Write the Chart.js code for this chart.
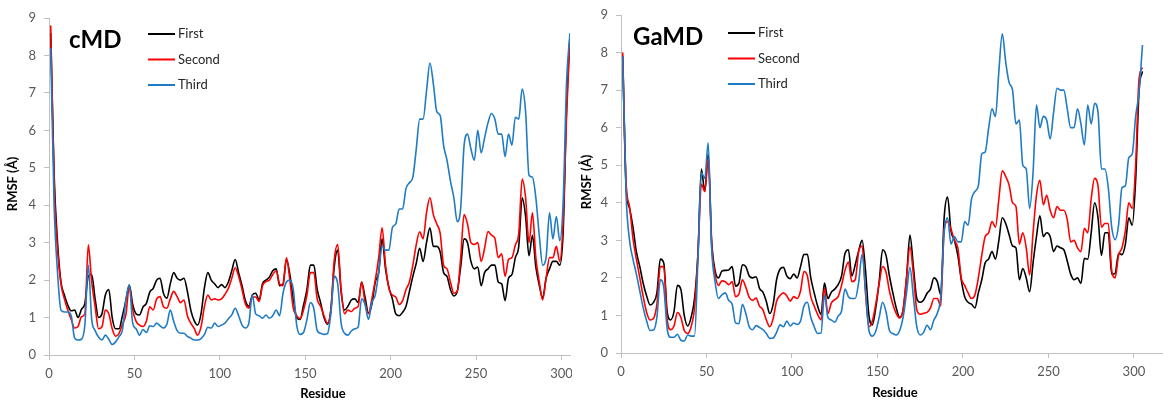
<!DOCTYPE html>
<html>
<head>
<meta charset="utf-8">
<script src="https://cdn.jsdelivr.net/npm/chart.js@4.4.0/dist/chart.umd.min.js"></script>
<style>
  body { margin: 0; background: #fff; }
  #wrapL { position: absolute; left: 0; top: 0; }
  #wrapR { position: absolute; left: 578px; top: 0; }
</style>
</head>
<body>
<div id="wrapL"><canvas id="cmdChart" width="572" height="402"></canvas></div>
<div id="wrapR"><canvas id="gamdChart" width="585" height="402"></canvas></div>
<script>
// residue numbers (every other residue)
const residues = [
  1, 3, 5, 7, 9, 11, 13, 15, 17, 19,
  21, 23, 25, 27, 29, 31, 33, 35, 37, 39,
  41, 43, 45, 47, 49, 51, 53, 55, 57, 59,
  61, 63, 65, 67, 69, 71, 73, 75, 77, 79,
  81, 83, 85, 87, 89, 91, 93, 95, 97, 99,
  101, 103, 105, 107, 109, 111, 113, 115, 117, 119,
  121, 123, 125, 127, 129, 131, 133, 135, 137, 139,
  141, 143, 145, 147, 149, 151, 153, 155, 157, 159,
  161, 163, 165, 167, 169, 171, 173, 175, 177, 179,
  181, 183, 185, 187, 189, 191, 193, 195, 197, 199,
  201, 203, 205, 207, 209, 211, 213, 215, 217, 219,
  221, 223, 225, 227, 229, 231, 233, 235, 237, 239,
  241, 243, 245, 247, 249, 251, 253, 255, 257, 259,
  261, 263, 265, 267, 269, 271, 273, 275, 277, 279,
  281, 283, 285, 287, 289, 291, 293, 295, 297, 299,
  301, 303, 305
];

const seriesNames = ['First', 'Second', 'Third'];
const seriesColors = ['#000000', '#ff0000', '#1f7bc4'];
const xTicks = [0, 50, 100, 150, 200, 250, 300];
const yTicks = [0, 1, 2, 3, 4, 5, 6, 7, 8, 9];

// cMD RMSF (Å)
const cmdFirst = [
  8.6, 4.8, 3.0, 1.95, 1.6, 1.33, 1.18, 1.2, 1.0, 1.22,
  1.38, 2.1, 2.15, 1.5, 1.0, 1.1, 1.6, 1.75, 1.0, 0.7,
  0.7, 1.05, 1.45, 1.87, 1.35, 1.1, 1.07, 1.28, 1.38, 1.68,
  1.78, 2.0, 2.05, 1.65, 1.52, 1.9, 2.2, 2.05, 2.0, 2.05,
  1.7, 1.2, 0.92, 0.8, 1.1, 1.8, 2.2, 2.0, 1.9, 1.8,
  1.88, 1.8, 1.95, 2.25, 2.55, 2.2, 1.85, 1.45, 1.3, 1.6,
  1.65, 1.47, 1.9, 2.0, 2.08, 2.25, 2.3, 1.85, 1.9, 2.55,
  2.15, 1.5, 1.0, 0.95, 1.33, 1.75, 2.4, 2.4, 1.75, 1.4,
  1.0, 0.82, 1.2, 2.36, 2.8, 1.7, 1.2, 1.3, 1.47, 1.5,
  1.4, 1.95, 1.55, 1.12, 1.35, 1.95, 2.2, 3.1, 2.3, 1.8,
  1.5, 1.1, 1.05, 1.14, 1.3, 1.7, 2.1, 2.45, 2.85, 2.5,
  3.0, 3.4, 2.9, 2.9, 2.75, 2.2, 2.1, 1.75, 1.58, 1.7,
  2.35, 3.1, 3.0, 2.5, 2.3, 2.35, 1.85, 2.2, 2.3, 2.4,
  2.4, 1.95, 1.9, 1.45, 2.05, 2.15, 2.6, 2.9, 4.2, 3.7,
  2.65, 3.2, 2.35, 1.87, 1.52, 2.05, 2.3, 2.5, 2.5, 2.4,
  3.3, 6.6, 8.55
];
const cmdSecond = [
  8.8, 4.6, 2.8, 1.9, 1.5, 1.2, 0.95, 0.72, 0.76, 1.02,
  1.1, 2.94, 1.95, 1.3, 0.7, 0.75, 1.2, 1.1, 0.7, 0.5,
  0.58, 0.83, 1.07, 1.83, 1.2, 0.9, 0.8, 0.76, 0.9, 1.29,
  1.2, 1.5, 1.56, 1.29, 1.25, 1.5, 1.7, 1.56, 1.4, 1.47,
  1.05, 0.85, 0.71, 0.53, 0.75, 1.3, 1.6, 1.47, 1.5, 1.47,
  1.5, 1.62, 1.78, 2.05, 2.33, 2.1, 1.75, 1.36, 1.25, 1.55,
  1.55, 1.43, 1.85, 1.96, 2.0, 2.15, 2.25, 1.9, 1.85, 2.6,
  2.0, 1.25, 1.05, 0.97, 1.2, 1.6, 2.2, 2.2, 1.5, 1.3,
  1.05, 0.85, 1.2, 2.54, 2.95, 1.75, 1.1, 1.2, 1.16, 1.25,
  1.3, 1.95, 1.4, 1.1, 1.5, 2.0, 2.6, 3.4, 2.4, 1.78,
  1.6, 1.55, 1.35, 1.45, 1.75, 1.95, 2.4, 2.95, 3.29, 3.1,
  3.8, 4.2, 3.75, 3.5, 3.25, 2.4, 2.3, 1.95, 1.65, 1.7,
  2.6, 3.75, 3.5, 3.0, 2.95, 3.0, 2.5, 2.85, 3.3, 3.2,
  3.12, 2.6, 2.7, 2.1, 2.55, 2.6, 2.94, 3.25, 4.7, 4.2,
  3.0, 3.8, 2.6, 1.96, 1.47, 2.05, 2.6, 2.6, 2.9, 2.5,
  3.6, 6.4, 8.5
];
const cmdThird = [
  8.2, 4.0, 2.2, 1.2, 1.15, 1.15, 1.05, 0.45, 0.4, 0.42,
  0.8, 2.4, 0.95, 0.65, 0.48, 0.4, 0.53, 0.42, 0.28, 0.35,
  0.49, 0.67, 1.47, 1.87, 0.85, 0.7, 0.53, 0.68, 0.6, 0.78,
  0.76, 0.85, 0.78, 0.72, 0.82, 1.2, 0.9, 0.65, 0.58, 0.58,
  0.5, 0.45, 0.4, 0.4, 0.44, 0.55, 0.74, 0.72, 0.85, 0.76,
  0.8, 0.85, 0.97, 1.07, 1.25, 1.05, 0.8, 0.72, 0.85, 1.6,
  1.1, 1.05, 0.98, 1.07, 0.98, 1.05, 1.2, 1.05, 1.65, 1.95,
  2.0, 1.75, 0.8, 0.55, 0.6, 0.95, 1.4, 1.25, 0.65, 0.58,
  0.55, 0.57, 1.1, 2.1, 1.9, 0.85, 0.58, 0.53, 0.64, 0.7,
  0.75, 1.5, 1.35, 0.95, 1.4, 1.6, 2.2, 2.9, 2.8, 2.8,
  3.4, 3.5, 3.9, 3.9, 4.45, 4.6, 4.75, 5.5, 6.3, 6.3,
  7.05, 7.8, 7.25, 6.5, 6.4, 5.6, 5.2, 4.65, 4.2, 3.56,
  3.92, 5.6, 5.9, 5.5, 5.2, 6.0, 5.4, 5.8, 6.2, 6.45,
  6.3, 5.9, 5.9, 5.3, 5.9, 5.6, 6.35, 6.3, 7.1, 6.5,
  4.8, 4.75, 4.2, 3.2, 2.4, 2.6, 3.8, 3.1, 3.7, 3.05,
  4.1, 7.3, 8.6
];

// GaMD RMSF (Å)
const gamdFirst = [
  7.9, 4.4, 3.85, 3.35, 2.7, 2.3, 1.85, 1.52, 1.28, 1.35,
  1.6, 2.5, 2.4, 1.1, 0.88, 1.1, 1.8, 1.7, 1.0, 0.72,
  0.95, 1.45, 2.65, 4.9, 4.3, 5.3, 3.0, 2.2, 2.0, 2.18,
  2.2, 2.21, 2.3, 1.78, 1.86, 2.35, 2.3, 2.05, 2.0, 2.03,
  1.72, 1.62, 1.37, 1.05, 1.3, 1.95, 2.23, 2.28, 2.05, 1.98,
  2.1, 2.0, 2.3, 2.62, 2.63, 2.0, 1.6, 1.25, 1.03, 1.86,
  1.45, 1.62, 1.7, 1.82, 2.05, 2.65, 2.75, 2.05, 2.35, 2.72,
  3.0, 2.2, 1.0, 0.75, 1.2, 1.9, 2.75, 2.6, 2.05, 1.6,
  1.2, 0.95, 1.15, 2.0, 3.14, 2.3, 1.45, 1.35, 1.41, 1.59,
  1.7, 2.0, 1.9, 1.55, 3.6, 4.15, 3.25, 3.0, 2.6, 1.95,
  1.5, 1.35, 1.3, 1.2, 1.6, 1.95, 2.4, 2.5, 2.7, 2.5,
  3.0, 3.6, 3.45, 3.15, 2.85, 2.8, 1.95, 2.25, 2.0, 1.63,
  2.4, 3.1, 3.65, 3.1, 3.2, 3.1, 2.7, 2.85, 2.8, 2.75,
  2.45, 2.1, 1.95, 2.0, 1.85, 2.52, 2.5, 3.2, 4.0, 3.6,
  2.6, 3.2, 3.2, 2.1, 2.12, 2.65, 2.62, 2.9, 3.6, 3.4,
  4.6, 7.0, 7.5
];
const gamdSecond = [
  8.0, 4.5, 3.9, 3.05, 2.5, 2.0, 1.5, 1.08, 0.88, 0.92,
  1.3, 2.3, 2.3, 0.9, 0.62, 0.72, 1.08, 0.95, 0.6, 0.52,
  0.7, 1.2, 2.6, 4.5, 4.3, 5.2, 2.9, 2.1, 1.8, 1.92,
  1.9, 1.82, 1.9, 1.5, 1.57, 1.95, 1.75, 1.48, 1.4, 1.46,
  1.25, 1.15, 0.88, 0.7, 0.92, 1.38, 1.53, 1.6, 1.52, 1.38,
  1.5, 1.45, 1.65, 2.17, 2.05, 1.5, 1.25, 1.03, 0.88, 1.72,
  1.05, 1.33, 1.42, 1.5, 1.8, 2.2, 2.42, 1.9, 1.95, 2.7,
  2.85, 1.6, 0.7, 0.85, 1.3, 1.85, 2.3, 2.15, 1.65, 1.3,
  1.05, 0.93, 1.15, 2.0, 2.83, 2.1, 1.15, 1.03, 1.06, 1.08,
  1.2, 1.45, 1.45, 1.25, 3.3, 3.5, 3.3, 3.0, 2.8, 2.0,
  1.8, 1.6, 1.45, 1.55, 2.0, 2.6, 3.1, 3.2, 3.5, 3.35,
  4.1, 4.85, 4.7, 4.47, 4.0, 3.9, 2.9, 3.2, 2.8, 2.08,
  3.2, 4.2, 4.6, 3.95, 4.2, 3.8, 3.6, 3.9, 3.8, 3.8,
  3.55, 2.96, 3.0, 2.8, 2.7, 3.32, 3.2, 4.1, 4.65, 4.45,
  3.35, 3.45, 3.45, 2.2, 2.0, 2.6, 2.8, 3.25, 4.0, 3.85,
  5.0, 7.3, 7.6
];
const gamdThird = [
  7.9, 4.2, 3.0, 2.5, 2.1, 1.65, 1.2, 0.85, 0.6, 0.61,
  0.95, 1.95, 1.75, 0.65, 0.42, 0.42, 0.5, 0.34, 0.32, 0.48,
  0.45, 0.45, 2.48, 4.8, 4.65, 5.6, 2.8, 1.9, 1.45, 1.55,
  1.6, 1.4, 1.3, 0.8, 0.78, 1.3, 1.05, 0.7, 0.62, 0.73,
  0.68, 0.62, 0.52, 0.39, 0.4, 0.55, 0.75, 0.7, 0.85, 0.72,
  0.8, 0.76, 0.85, 1.25, 1.35, 0.95, 0.7, 0.52, 0.53, 1.55,
  0.95, 0.88, 0.82, 0.98, 1.12, 1.7, 1.5, 1.45, 1.45, 1.88,
  2.63, 1.7, 0.6, 0.45, 0.58, 0.95, 1.35, 1.1, 0.6, 0.52,
  0.48, 0.6, 0.95, 1.6, 2.28, 1.5, 0.7, 0.48, 0.55, 0.74,
  0.62, 0.88, 1.06, 1.5, 3.2, 3.6, 2.9, 3.1, 2.96, 2.96,
  3.5, 3.4, 4.1, 4.3, 4.45, 5.3, 5.35, 5.98, 6.5, 6.3,
  7.5, 8.5, 7.75, 7.2, 7.0, 6.1, 6.2, 5.0, 4.9, 3.85,
  4.8, 6.6, 6.0, 6.3, 6.2, 5.7, 6.4, 7.05, 7.0, 7.0,
  6.5, 6.0, 6.0, 6.5, 6.1, 5.54, 6.6, 6.1, 6.65, 6.4,
  4.9, 4.9, 4.4, 3.35, 3.02, 3.4, 4.4, 4.45, 5.2, 5.3,
  6.3, 6.95, 8.2
];

const axisColor = '#bfbfbf';
const tickColor = '#595959';
const fontFamily = "Lato, 'DejaVu Sans', sans-serif";
Chart.defaults.font.family = fontFamily;

// panel title, stacked legend and axis titles
const panelText = {
  id: 'panelText',
  afterDraw(chart, args, o) {
    const ctx = chart.ctx;
    ctx.save();
    ctx.fillStyle = '#000';
    ctx.textBaseline = 'middle';
    ctx.textAlign = 'left';
    ctx.font = 'bold 24px ' + fontFamily;
    ctx.fillText(o.title, o.titleX, o.titleY);

    ctx.font = '13px ' + fontFamily;
    seriesNames.forEach((name, i) => {
      const y = o.legendY + i * o.legendDy;
      ctx.strokeStyle = seriesColors[i];
      ctx.lineWidth = 2;
      ctx.beginPath();
      ctx.moveTo(o.legendX, y);
      ctx.lineTo(o.legendX + 27, y);
      ctx.stroke();
      ctx.fillStyle = '#262626';
      ctx.fillText(name, o.legendX + 30, y);
    });

    ctx.fillStyle = '#000';
    ctx.font = 'bold 13px ' + fontFamily;
    ctx.textAlign = 'center';
    ctx.fillText('Residue', o.xTitleX, o.xTitleY);
    ctx.translate(o.yTitleX, o.yTitleY);
    ctx.rotate(-Math.PI / 2);
    ctx.fillText('RMSF (Å)', 0, 0);
    ctx.restore();
  }
};

function panelConfig(values, p) {
  return {
    type: 'line',
    data: {
      datasets: values.map((vals, i) => ({
        label: seriesNames[i],
        data: residues.map((r, k) => ({ x: r, y: vals[k] })),
        borderColor: seriesColors[i],
        borderWidth: 1.6,
        pointRadius: 0,
        cubicInterpolationMode: 'monotone',
        fill: false,
        order: 2 - i
      }))
    },
    options: {
      responsive: false,
      animation: false,
      devicePixelRatio: 1,
      layout: { padding: { top: p.top, right: p.right, left: 0, bottom: 0 } },
      plugins: {
        legend: { display: false },
        tooltip: { enabled: false },
        panelText: p.text
      },
      scales: {
        x: {
          type: 'linear',
          min: 0,
          max: p.xMax,
          afterBuildTicks: s => { s.ticks = xTicks.map(v => ({ value: v })); },
          afterFit: s => { s.height = p.xHeight; s.paddingLeft = 0; s.paddingRight = 0; },
          border: { color: axisColor, width: 1 },
          grid: { drawOnChartArea: false, tickLength: 5, color: axisColor },
          ticks: { color: tickColor, font: { size: 13 }, padding: 6, maxRotation: 0, autoSkip: false }
        },
        y: {
          type: 'linear',
          min: 0,
          max: 9,
          afterBuildTicks: s => { s.ticks = yTicks.map(v => ({ value: v })); },
          afterFit: s => { s.width = p.yWidth; s.paddingTop = 0; s.paddingBottom = 0; },
          border: { color: axisColor, width: 1 },
          grid: { drawOnChartArea: false, tickLength: 5, color: axisColor },
          ticks: { color: tickColor, font: { size: 13 }, padding: 8 }
        }
      }
    },
    plugins: [panelText]
  };
}

new Chart(document.getElementById('cmdChart'), panelConfig(
  [cmdFirst, cmdSecond, cmdThird],
  {
    xMax: 305, top: 18, right: 2, xHeight: 47, yWidth: 49,
    text: { title: 'cMD', titleX: 69, titleY: 40, legendX: 148, legendY: 34, legendDy: 25.5,
            xTitleX: 323, xTitleY: 394, yTitleX: 13, yTitleY: 184 }
  }
));

new Chart(document.getElementById('gamdChart'), panelConfig(
  [gamdFirst, gamdSecond, gamdThird],
  {
    xMax: 317, top: 15, right: 0, xHeight: 49, yWidth: 43,
    text: { title: 'GaMD', titleX: 55, titleY: 37, legendX: 150, legendY: 33, legendDy: 25.5,
            xTitleX: 317, xTitleY: 393, yTitleX: 9, yTitleY: 182 }
  }
));
</script>
</body>
</html>
